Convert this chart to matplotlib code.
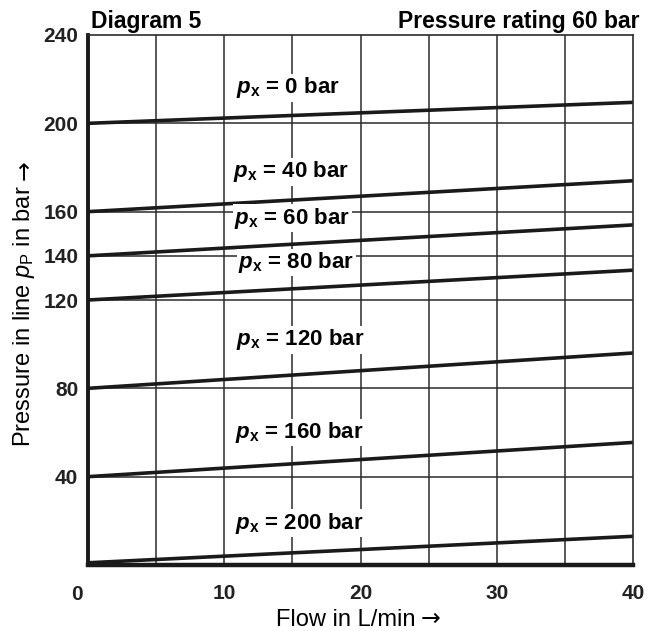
import matplotlib
matplotlib.use("Agg")
import matplotlib.pyplot as plt

plt.rcParams['font.family'] = ['Liberation Sans', 'DejaVu Sans']
plt.rcParams['mathtext.fontset'] = 'custom'
plt.rcParams['mathtext.rm'] = 'Liberation Sans'
plt.rcParams['mathtext.it'] = 'Liberation Sans:italic'
plt.rcParams['mathtext.bf'] = 'Liberation Sans:bold'
plt.rcParams['mathtext.bfit'] = 'Liberation Sans:bold:italic'

# Data
px_values = [0, 40, 60, 80, 120, 160, 200]
flow = [0, 40]
p_start = [200, 160, 140, 120, 80, 40, 1]
p_end = [209.5, 174, 154, 133.5, 96, 55.5, 13]
label_x = [14.7, 14.9, 15.0, 15.3, 15.6, 15.5, 15.5]
label_y = [216, 178, 157, 137, 102, 60, 19]

y_ticks = [40, 80, 120, 140, 160, 200, 240]
x_ticks = [10, 20, 30, 40]
x_grid = [5, 10, 15, 20, 25, 30, 35]
y_grid = [40, 80, 120, 140, 160, 200]

W, H = 660, 631
fig = plt.figure(figsize=(6.6, 6.31), dpi=100)
ax = fig.add_axes([88/W, 66/H, (633-88)/W, (565-35)/H])
ax.set_xlim(0, 40)
ax.set_ylim(0, 240)

gc = '#2b2b2b'
for xv in x_grid:
    ax.axvline(xv, color=gc, lw=1.1, zorder=1)
for yv in y_grid:
    ax.axhline(yv, color=gc, lw=1.1, zorder=1)

for ps, s, e in zip(px_values, p_start, p_end):
    ax.plot(flow, [s, e], color='#1a1a1a', lw=2.6, zorder=2, solid_capstyle='butt')

for ps, lx, ly in zip(px_values, label_x, label_y):
    ax.text(lx, ly, r'$\mathbfit{p}_{\mathbf{x}}$' + f' = {ps} bar', ha='center', va='center',
            fontsize=16, fontweight='bold', zorder=3,
            bbox=dict(facecolor='white', edgecolor='none', pad=1.0))

ax.spines['left'].set_linewidth(2.8)
ax.spines['bottom'].set_linewidth(3.2)
for side in ['left', 'bottom']:
    ax.spines[side].set_color('#1a1a1a')
for side in ['right', 'top']:
    ax.spines[side].set_linewidth(1.2)
    ax.spines[side].set_color(gc)

ax.set_yticks(y_ticks)
ax.set_yticklabels([str(v) for v in y_ticks], fontsize=15, fontweight='bold', color='#222222')
ax.set_xticks(x_ticks)
ax.set_xticklabels([str(v) for v in x_ticks], fontsize=15, fontweight='bold', color='#222222')
ax.tick_params(axis='y', length=0, pad=7)
ax.tick_params(axis='x', length=0, pad=14)
ax.annotate('0', xy=(0, 0), xytext=(-11, -29), textcoords='offset pixels',
            ha='center', va='center', fontsize=15, fontweight='bold', color='#222222',
            annotation_clip=False)

# axis titles (placed as figure text, arrows appended after)
xl = fig.text(276/W, 1 - 620/H, 'Flow in L/min', fontsize=17, ha='left', va='center')
yl = fig.text(24/W, 1 - 447/H, r'Pressure in line $\mathit{p}_{\mathrm{P}}$ in bar',
              fontsize=17, ha='center', va='bottom', rotation=90, rotation_mode='default')

fig.text(91/W, 1 - 28/H, 'Diagram 5', ha='left', va='baseline', fontsize=16.5, fontweight='bold')
fig.text(640/W, 1 - 28/H, 'Pressure rating 60 bar', ha='right', va='baseline', fontsize=16.5, fontweight='bold')

fig.canvas.draw()
r = fig.canvas.get_renderer()
bx = xl.get_window_extent(r)
by = yl.get_window_extent(r)
fig.text((bx.x1 + 5) / W, (bx.y0 + bx.y1) / 2 / H + 1/H, '\u2192', family='DejaVu Sans',
         fontsize=17, ha='left', va='center')
fig.text((by.x0 + by.x1) / 2 / W + 1/W, (by.y1 + 5) / H, '\u2192', family='DejaVu Sans',
         fontsize=17, ha='center', va='bottom', rotation=90)

fig.savefig('out.png', dpi=100)
